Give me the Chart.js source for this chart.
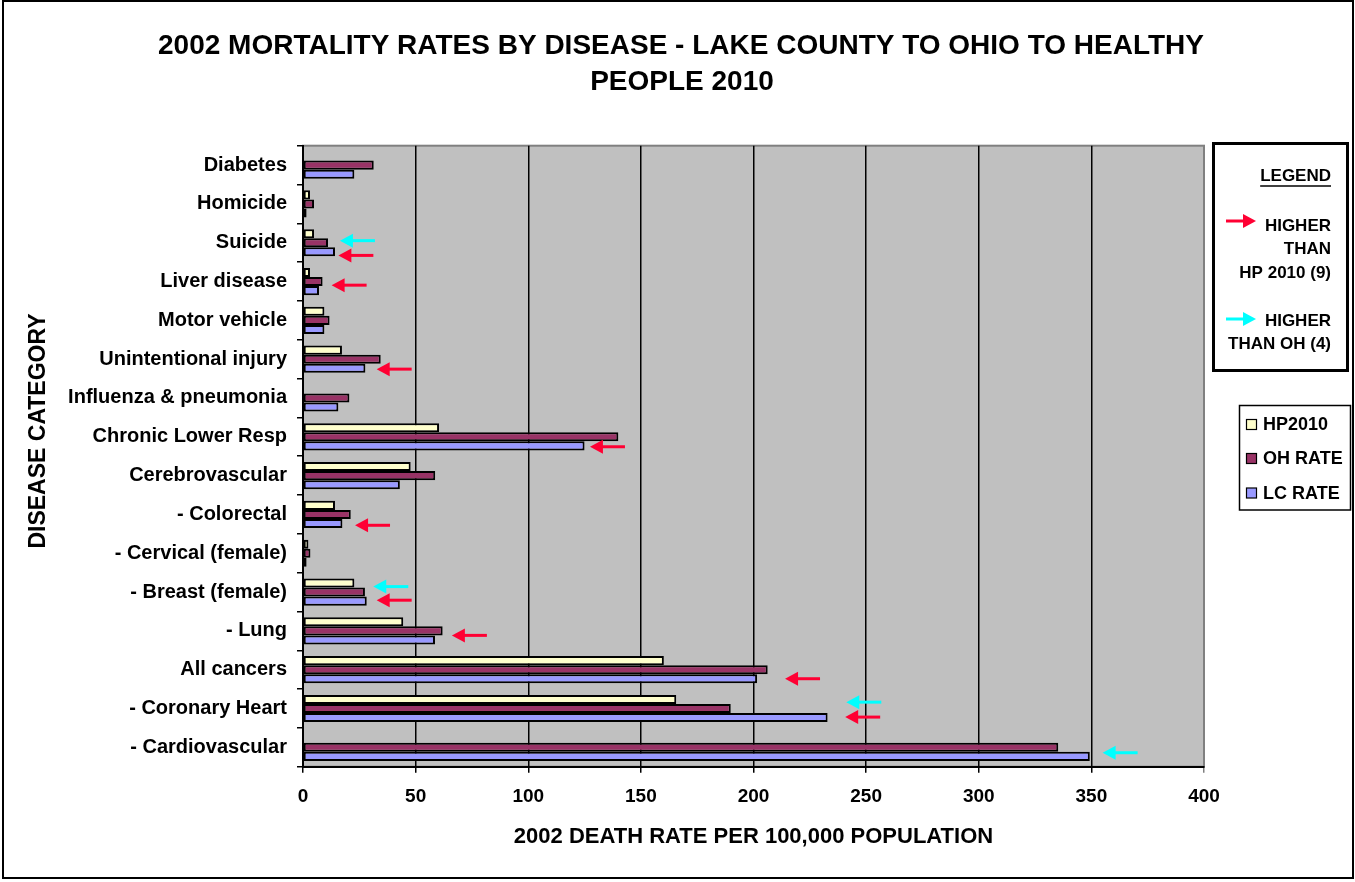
<!DOCTYPE html>
<html>
<head>
<meta charset="utf-8">
<script src="https://cdn.jsdelivr.net/npm/chart.js@4.4.1/dist/chart.umd.min.js"></script>
<style>
html, body { margin: 0; padding: 0; background: #fff; }
</style>
</head>
<body>
<canvas id="myChart" width="1355" height="882"></canvas>
<script>
// categories, top to bottom
var categories = ['Diabetes', 'Homicide', 'Suicide', 'Liver disease', 'Motor vehicle',
    'Unintentional injury', 'Influenza & pneumonia', 'Chronic Lower Resp', 'Cerebrovascular',
    '- Colorectal', '- Cervical (female)', '- Breast (female)', '- Lung', 'All cancers',
    '- Coronary Heart', '- Cardiovascular'];

var hp2010 = [null, 3.1, 4.9, 3.1, 9.5, 17.3, null, 60.4, 47.8, 14.2, 2.4, 22.8, 44.5, 160.2, 165.7, null];
var ohRate = [31.4, 4.9, 11.1, 8.7, 11.8, 34.5, 20.6, 140, 58.7, 21.2, 3.3, 27.5, 62, 206.3, 189.9, 335.3];
var lcRate = [22.8, 1.6, 14.2, 7.1, 9.5, 27.7, 15.7, 125, 43, 17.5, 1.6, 28.3, 58.6, 201.6, 232.9, 349.3];

var xMin = 0, xMax = 400, xStep = 50;

// arrows: category index, row inside the group (0 = HP2010, 1 = OH, 2 = LC), value at the arrow tip
var redArrowCat = [2, 3, 5, 7, 9, 11, 12, 13, 14];
var redArrowRow = [2.4, 1.4, 2.1, 2.1, 2.2, 1.9, 1.5, 2.0, 1.95];
var redArrowTip = [15.7, 12.7, 32.7, 127.4, 23.1, 32.7, 66.1, 214, 240.7];

var cyanArrowCat = [2, 11, 14, 15];
var cyanArrowRow = [0.77, 0.4, 0.3, 1.6];
var cyanArrowTip = [16.4, 31.2, 241.2, 355];

var titleLines = ['2002 MORTALITY RATES BY DISEASE - LAKE COUNTY TO OHIO TO HEALTHY', 'PEOPLE 2010'];
var legendLines = ['HIGHER', 'THAN', 'HP 2010 (9)', 'HIGHER', 'THAN OH (4)'];

var FONT = "'Liberation Sans', Arial, sans-serif";
var RED = '#FF0033', CYAN = '#00FFFF';
var catPct = 0.7;

function arrow(ctx, x, y, len, dir, color) {
    // dir -1 = points left, 1 = points right
    ctx.save();
    ctx.strokeStyle = color;
    ctx.fillStyle = color;
    ctx.lineWidth = 3;
    ctx.beginPath();
    ctx.moveTo(x - dir * 10, y);
    ctx.lineTo(x - dir * len, y);
    ctx.stroke();
    ctx.beginPath();
    ctx.moveTo(x, y);
    ctx.lineTo(x - dir * 13, y - 7);
    ctx.lineTo(x - dir * 13, y + 7);
    ctx.closePath();
    ctx.fill();
    ctx.restore();
}

var decor = {
    id: 'decor',
    beforeDraw: function(chart) {
        var ctx = chart.ctx, a = chart.chartArea;
        ctx.save();
        ctx.fillStyle = '#fff';
        ctx.fillRect(0, 0, chart.width, chart.height);
        ctx.fillStyle = '#C0C0C0';
        ctx.fillRect(a.left, a.top, a.right - a.left, a.bottom - a.top);
        ctx.strokeStyle = '#808080';
        ctx.lineWidth = 2;
        ctx.strokeRect(a.left, a.top, a.right - a.left, a.bottom - a.top);
        ctx.restore();
    },
    afterDatasetsDraw: function(chart) {
        var ctx = chart.ctx, xs = chart.scales.x, ys = chart.scales.y;
        var band = ys.getPixelForValue(1) - ys.getPixelForValue(0);
        var bar = band * catPct / 3;
        var i;
        for (i = 0; i < redArrowCat.length; i++) {
            arrow(ctx, xs.getPixelForValue(redArrowTip[i]),
                ys.getPixelForValue(redArrowCat[i]) + (redArrowRow[i] - 1) * bar, 35, -1, RED);
        }
        for (i = 0; i < cyanArrowCat.length; i++) {
            arrow(ctx, xs.getPixelForValue(cyanArrowTip[i]),
                ys.getPixelForValue(cyanArrowCat[i]) + (cyanArrowRow[i] - 1) * bar, 35, -1, CYAN);
        }
    },
    afterDraw: function(chart) {
        var ctx = chart.ctx;
        ctx.save();
        // outer frame
        ctx.strokeStyle = '#000';
        ctx.lineWidth = 2;
        ctx.strokeRect(3, 1, 1350, 877);

        // title
        ctx.fillStyle = '#000';
        ctx.textAlign = 'center';
        ctx.textBaseline = 'middle';
        ctx.font = 'bold 28px ' + FONT;
        ctx.fillText(titleLines[0], 681, 46);
        ctx.fillText(titleLines[1], 682, 82);

        // y axis title
        ctx.save();
        ctx.translate(39, 431);
        ctx.rotate(-Math.PI / 2);
        ctx.font = 'bold 23px ' + FONT;
        ctx.fillText('DISEASE CATEGORY', 0, 0);
        ctx.restore();

        // arrow legend box
        ctx.lineWidth = 3;
        ctx.strokeRect(1213.5, 143.5, 134, 227);
        ctx.textAlign = 'right';
        ctx.font = 'bold 17px ' + FONT;
        ctx.fillText('LEGEND', 1331, 176);
        var w = ctx.measureText('LEGEND').width;
        ctx.lineWidth = 1.5;
        ctx.beginPath();
        ctx.moveTo(1331 - w, 186);
        ctx.lineTo(1331, 186);
        ctx.stroke();
        var ly = [226, 249, 273, 321, 344];
        for (var k = 0; k < legendLines.length; k++) {
            ctx.fillText(legendLines[k], 1331, ly[k]);
        }
        arrow(ctx, 1256, 221, 30, 1, RED);
        arrow(ctx, 1256, 319, 30, 1, CYAN);

        // series legend
        ctx.lineWidth = 1.5;
        ctx.strokeRect(1239.5, 405.5, 111, 104.5);
        ctx.textAlign = 'left';
        ctx.font = 'bold 18px ' + FONT;
        var sy = [424.5, 458.5, 493];
        chart.data.datasets.forEach(function(ds, j) {
            ctx.fillStyle = ds.backgroundColor;
            ctx.fillRect(1246.5, sy[j] - 5, 10, 10);
            ctx.lineWidth = 1.2;
            ctx.strokeRect(1246.5, sy[j] - 5, 10, 10);
            ctx.fillStyle = '#000';
            ctx.fillText(ds.label, 1263, sy[j] + 1);
        });
        ctx.restore();
    }
};

function main() {
    var ctx = document.getElementById('myChart').getContext('2d');
    var tickFont = { family: FONT, size: 19, weight: 'bold' };
    var myChart = new Chart(ctx, {
        type: 'bar',
        data: {
            labels: categories,
            datasets: [
                { label: 'HP2010', data: hp2010, backgroundColor: '#FFFFCC' },
                { label: 'OH RATE', data: ohRate, backgroundColor: '#993366' },
                { label: 'LC RATE', data: lcRate, backgroundColor: '#9999FF' }
            ]
        },
        options: {
            indexAxis: 'y',
            responsive: false,
            animation: false,
            devicePixelRatio: 1,
            datasets: {
                bar: {
                    categoryPercentage: catPct,
                    barPercentage: 1.0,
                    borderColor: '#000',
                    borderWidth: 2,
                    borderSkipped: false
                }
            },
            layout: { padding: { left: 0, right: 151, top: 145.7, bottom: 0 } },
            plugins: {
                legend: { display: false },
                tooltip: { enabled: false },
                title: { display: false }
            },
            scales: {
                x: {
                    min: xMin,
                    max: xMax,
                    ticks: { stepSize: xStep, color: '#000', font: tickFont, padding: 13 },
                    grid: {
                        color: function(c) { return c.tick && c.tick.value === xMax ? '#808080' : '#000'; },
                        lineWidth: 1.5,
                        tickLength: 6
                    },
                    border: { color: '#000', width: 2 },
                    title: {
                        display: true,
                        text: '2002 DEATH RATE PER 100,000 POPULATION',
                        color: '#000',
                        font: { family: FONT, size: 22, weight: 'bold' },
                        padding: { top: 0, bottom: 32 }
                    },
                    afterFit: function(s) { s.height = 115.3; }
                },
                y: {
                    ticks: { color: '#000', font: { family: FONT, size: 20, weight: 'bold' }, padding: 10, autoSkip: false },
                    grid: { drawOnChartArea: false, tickLength: 6, color: '#000', offset: true, lineWidth: 1.5 },
                    border: { color: '#000', width: 2 },
                    afterFit: function(s) { s.width = 303; }
                }
            }
        },
        plugins: [decor]
    });
}

document.addEventListener('DOMContentLoaded', function() {
    main();
});
</script>
</body>
</html>
